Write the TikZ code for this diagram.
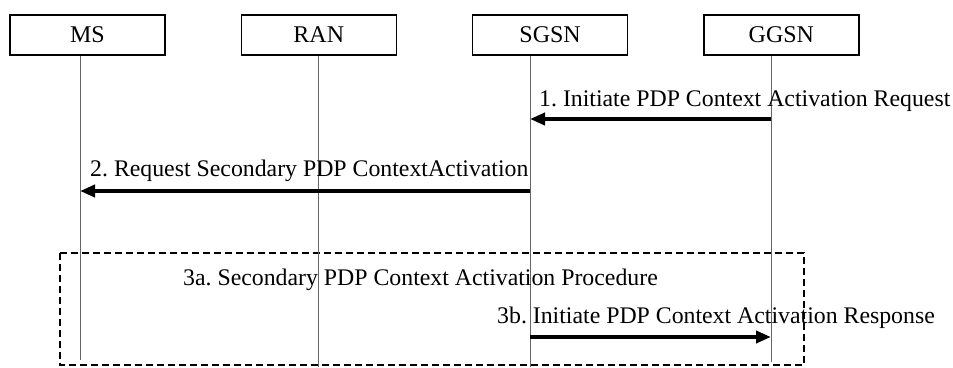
\documentclass[tikz,border=0pt]{standalone}
\usepackage{fontspec}
\setmainfont{Liberation Serif}
\usetikzlibrary{arrows.meta, positioning}
\frenchspacing
\tikzset{
  entity/.style={
    rectangle, draw=black, fill=white, line width=1.3pt,
    minimum width=155pt, minimum height=40pt, inner sep=0pt,
    font=\fontsize{24}{28}\selectfont
  },
  lifeline/.style={draw=black!60, line width=1pt},
  msg/.style={-{Triangle[length=15pt,width=12pt]}, line width=4pt, draw=black},
  msglabel/.style={anchor=base west, inner sep=0pt, font=\fontsize{23.8}{28}\selectfont},
  procbox/.style={draw=black, line width=1.3pt, dash pattern=on 7pt off 4pt},
}

\begin{document}
\begin{tikzpicture}[x=1pt, y=-1pt, node distance=75pt]
  \useasboundingbox (0,0) rectangle (953,367);

  % entities
  \node[entity] (ms) at (87.5,35) {MS};
  \node[entity, right=of ms] (ran) {RAN};
  \node[entity, right=of ran] (sgsn) {SGSN};
  \node[entity, right=of sgsn] (ggsn) {GGSN};

  % lifeline ends
  \coordinate (msEnd) at (80,360);
  \coordinate (ranEnd) at (318,367);
  \coordinate (sgsnEnd) at (530,367);
  \coordinate (ggsnEnd) at (771,362);

  % procedure frame
  \draw[procbox] (60,253) rectangle (804,365);

  \draw[lifeline] (ms.south -| msEnd) -- (msEnd);
  \draw[lifeline] (ran.south -| ranEnd) -- (ranEnd);
  \draw[lifeline] (sgsn.south -| sgsnEnd) -- (sgsnEnd);
  \draw[lifeline] (ggsn.south -| ggsnEnd) -- (ggsnEnd);

  % message points
  \coordinate (m1a) at (771,119);
  \coordinate (m1b) at (530,119);
  \coordinate (m2a) at (530,191);
  \coordinate (m2b) at (80,191);
  \coordinate (m3a) at (530,337);
  \coordinate (m3b) at (771,337);

  \draw[msg] (m1a) -- (m1b);
  \node[msglabel] (l1) at (539,106) {1. Initiate PDP Context Activation Request};

  \draw[msg] (m2a) -- (m2b);
  \node[msglabel] (l2) at (90,176) {2. Request Secondary PDP ContextActivation};

  \node[msglabel] (l3a) at (183,285) {3a. Secondary PDP Context Activation Procedure};

  \draw[msg] (m3a) -- (m3b);
  \node[msglabel] (l3b) at (497,323) {3b. Initiate PDP Context Activation Response};
\end{tikzpicture}
\end{document}
